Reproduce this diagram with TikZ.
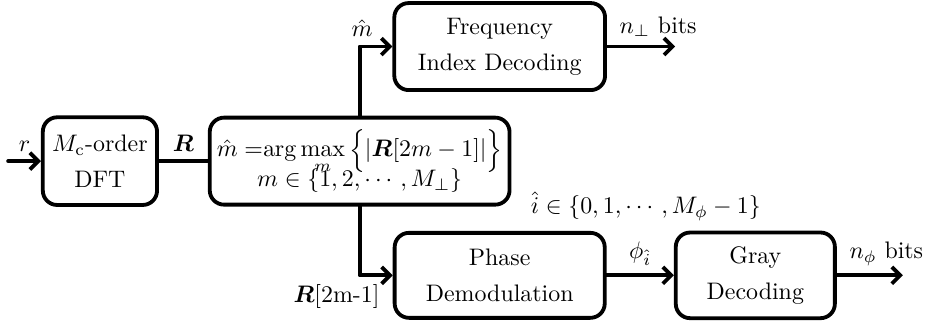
\documentclass[tikz,border=0pt]{standalone}
\usepackage{amsmath,amssymb}
\usetikzlibrary{positioning,arrows.meta}

\begin{document}
\begin{tikzpicture}[
  x=1cm,y=1cm,
  line cap=round,line join=round,
  >={Straight Barb[length=3.5pt,width=7pt]},
  block/.style={draw,rounded corners=6pt,line width=1.6pt,align=center,inner sep=0pt},
  wire/.style={line width=1.6pt},
  flow/.style={->,line width=1.6pt}
]
  \path[use as bounding box] (0,0) rectangle (13.65,4.81);

  \node[block,minimum width=1.68cm,minimum height=1.29cm] (dft) at (1.47,2.44)
    {$M_{\mathrm{c}}$-order\\[3pt] DFT};
  \node[block,minimum width=4.41cm,minimum height=1.28cm] (argmx) at (5.29,2.44)
    {$\hat{m}\;{=}\mathrm{arg}\max\limits_{m}\Big\{|\boldsymbol{R}[2m-1]|\Big\}$\\[-3pt]
     $m\in\{1,2,\cdots,M_{\perp}\}$};
  \node[block,minimum width=3.10cm,minimum height=1.28cm] (freq) at (7.35,4.125)
    {Frequency\\[3pt] Index Decoding};
  \node[block,minimum width=3.09cm,minimum height=1.25cm] (phase) at (7.35,0.76)
    {Phase\\[3pt] Demodulation};
  \node[block,minimum width=2.34cm,minimum height=1.26cm] (gray) at (11.11,0.76)
    {Gray\\[3pt] Decoding};

  \coordinate (in) at (0.12,2.44);
  \coordinate (fout) at (9.93,4.125);
  \coordinate (gout) at (13.28,0.76);

  \draw[flow] (in) -- node[above] (rlab) {$r$} (dft.west);
  \draw[wire] (dft.east) -- node[above] (Rlab) {$\boldsymbol{R}$} (argmx.west);
  \draw[flow] (argmx.north) |- node[pos=0.5,above,xshift=1pt] (mlab) {$\hat{m}$} (freq.west);
  \draw[flow] (argmx.south) |- (phase.west);
  \draw[flow] (freq.east) -- node[pos=0.75,above] (nplab) {$n_{\perp}$ bits} (fout);
  \draw[flow] (phase.east) -- node[above] (philab) {$\phi_{\hat{i}}$} (gray.west);
  \draw[flow] (gray.east) -- node[pos=0.75,above] (nflab) {$n_{\phi}$ bits} (gout);

  \node (R2lab) at (4.95,0.45) {$\boldsymbol{R}$[2m-1]};
  \node (ilab) at (9.5,1.78) {$\hat{i}\in\{0,1,\cdots,M_{\phi}-1\}$};
\end{tikzpicture}
\end{document}
